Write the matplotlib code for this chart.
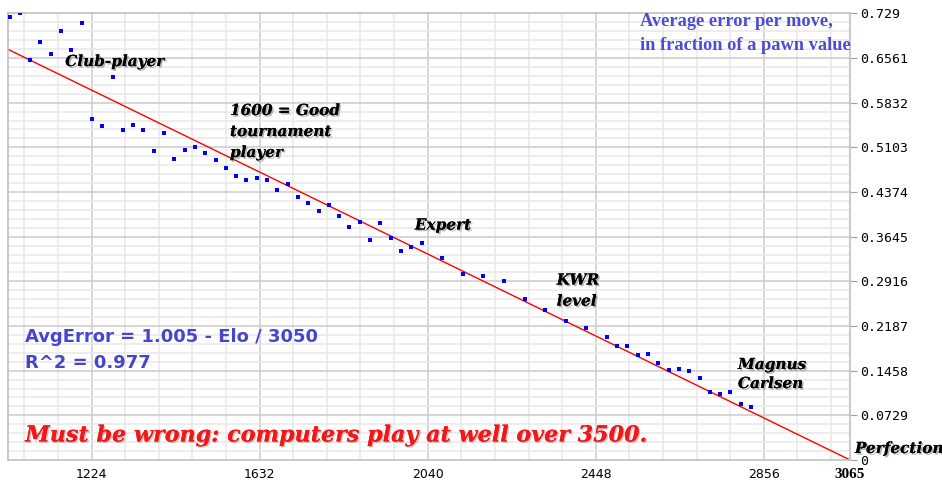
import matplotlib
matplotlib.use("Agg")
import matplotlib.pyplot as plt
import matplotlib.patheffects as pe
import numpy as np

# Elo rating vs average error per move (fraction of a pawn)
elo = [1025, 1050, 1075, 1100, 1125, 1150, 1175, 1200, 1225, 1250,
       1275, 1300, 1325, 1350, 1375, 1400, 1425, 1450, 1475, 1500,
       1525, 1550, 1575, 1600, 1625, 1650, 1675, 1700, 1725, 1750,
       1775, 1800, 1825, 1850, 1875, 1900, 1925, 1950, 1975, 2000,
       2025, 2075, 2125, 2175, 2225, 2275, 2325, 2375, 2425, 2475,
       2500, 2525, 2550, 2575, 2600, 2625, 2650, 2675, 2700, 2725,
       2750, 2775, 2800, 2825]
avg_error = [0.7225, 0.729, 0.6528, 0.6827, 0.6631, 0.7001, 0.6686, 0.7137, 0.5570, 0.5451,
             0.6255, 0.5390, 0.5472, 0.5390, 0.5043, 0.5332, 0.4917, 0.5059, 0.5103, 0.5015,
             0.4901, 0.4765, 0.4630, 0.4570, 0.4607, 0.4570, 0.4406, 0.4509, 0.4292, 0.4199,
             0.4059, 0.4162, 0.3982, 0.3803, 0.3879, 0.3586, 0.3863, 0.3628, 0.3411, 0.3471,
             0.3546, 0.3292, 0.3040, 0.2998, 0.2921, 0.2628, 0.2453, 0.2273, 0.2159, 0.2002,
             0.1860, 0.1860, 0.1709, 0.1725, 0.1583, 0.1469, 0.1485, 0.1448, 0.1333, 0.1115,
             0.1077, 0.1115, 0.0919, 0.0865]

# fit: AvgError = 1.005 - Elo / 3050
fit_a, fit_b = 1.005, 3050.0
xmin, xmax = 1022, 3065

x_ticks = [1224, 1632, 2040, 2448, 2856, 3065]
y_ticks = [0, 0.0729, 0.1458, 0.2187, 0.2916, 0.3645, 0.4374, 0.5103, 0.5832, 0.6561, 0.729]
y_labels = ["0", "0.0729", "0.1458", "0.2187", "0.2916", "0.3645", "0.4374",
            "0.5103", "0.5832", "0.6561", "0.729"]

fig = plt.figure(figsize=(9.42, 4.8), dpi=100)
ax = fig.add_axes([0.0088, 0.0417, 0.8935, 0.9306])

# grid: majors every 408 / 0.0729, 5 minor divisions each
for v in np.arange(1224 - 408, 3065, 408 / 5):
    if xmin < v < xmax:
        major = abs(((v - 1224) / 408) - round((v - 1224) / 408)) < 1e-6
        ax.axvline(v, color="#cccccc" if major else "#e8e8e8", lw=1.1, zorder=0)
for k in range(1, 50):
    v = k * 0.0729 / 5
    if v < 0.729:
        ax.axhline(v, color="#cccccc" if k % 5 == 0 else "#e8e8e8", lw=1.1, zorder=0)

xs = np.array([xmin, xmax])
ax.plot(xs, fit_a - xs / fit_b, color="#ff0000", lw=1, zorder=2)
ax.scatter(elo, avg_error, marker="s", s=10, color="#0000ff", linewidths=0, zorder=3)

ax.set_xlim(xmin, xmax)
ax.set_ylim(0, 0.729)
ax.yaxis.tick_right()
ax.set_yticks(y_ticks)
ax.set_yticklabels(y_labels, fontsize=9.5, family="DejaVu Sans Mono")
ax.set_xticks(x_ticks)
ax.set_xticklabels([str(t) for t in x_ticks], fontsize=9)
ax.get_xticklabels()[-1].set_fontweight("bold")
ax.get_xticklabels()[-1].set_family("Liberation Serif")
ax.get_xticklabels()[-1].set_fontsize(11)
ax.tick_params(axis="x", length=0, pad=6, colors="black")
ax.tick_params(axis="y", length=5, color="#a0a0a0", pad=2)
for s in ax.spines.values():
    s.set_color("#c0c0c0")
    s.set_linewidth(1.2)

shadow = [pe.withSimplePatchShadow(offset=(1.2, -1.2), shadow_rgbFace="#808080", alpha=0.6), pe.Normal()]
script = dict(family="DejaVu Serif", style="italic", fontweight="bold", color="black",
              fontsize=11, path_effects=shadow, va="center", ha="left")

ax.text(1160, 0.6495, "Club-player", **script)
ax.text(1560, 0.5695, "1600 = Good", **script)
ax.text(1560, 0.5352, "tournament", **script)
ax.text(1560, 0.501, "player", **script)
ax.text(2009, 0.3826, "Expert", **script)
ax.text(2353, 0.2928, "KWR", **script)
ax.text(2353, 0.2585, "level", **script)
ax.text(2793, 0.155, "Magnus", **script)
ax.text(2793, 0.124, "Carlsen", **script)
ax.text(3077, 0.018, "Perfection", clip_on=False, **script)

ax.text(1063, 0.2007, "AvgError = 1.005 - Elo / 3050", family="DejaVu Sans", fontweight="bold",
        fontsize=13, color="#4646cc", va="center", ha="left")
ax.text(1063, 0.1583, "R^2 = 0.977", family="DejaVu Sans", fontweight="bold",
        fontsize=13, color="#4646cc", va="center", ha="left")

ax.text(1063, 0.040, "Must be wrong: computers play at well over 3500.", family="DejaVu Serif",
        style="italic", fontweight="bold", fontsize=16, color="#f01818", va="center", ha="left",
        path_effects=[pe.withSimplePatchShadow(offset=(1, -1), shadow_rgbFace="#c08080", alpha=0.5), pe.Normal()])

ax.text(2555, 0.715, "Average error per move,", family="Liberation Serif", fontweight="bold",
        fontsize=13.2, color="#4b4bd8", va="center", ha="left")
ax.text(2555, 0.677, "in fraction of a pawn value", family="Liberation Serif", fontweight="bold",
        fontsize=13.2, color="#4b4bd8", va="center", ha="left")

fig.savefig("out.png", dpi=100)
